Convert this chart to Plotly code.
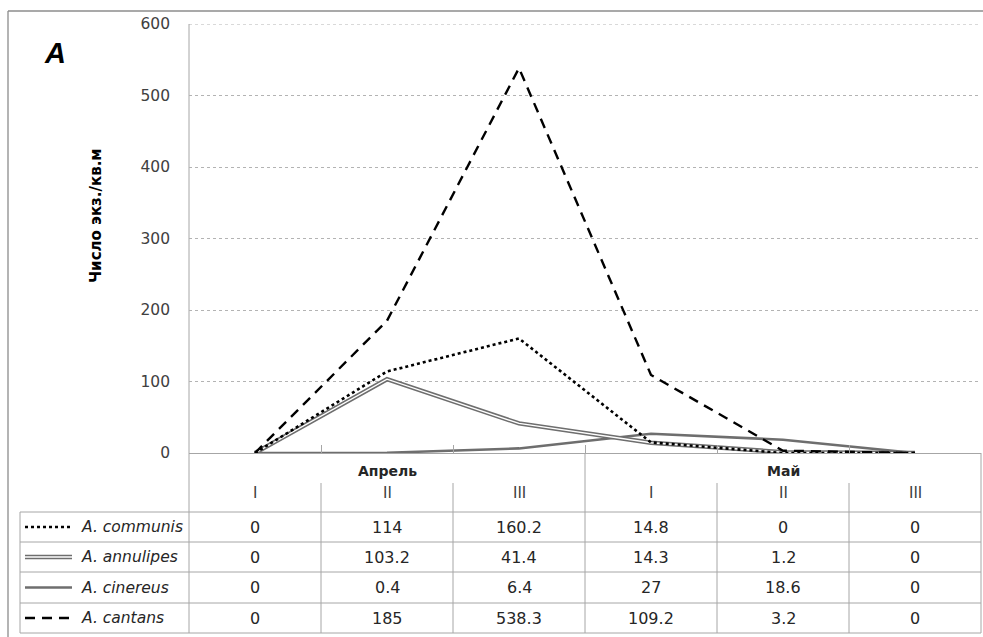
import plotly.graph_objects as go

W, H = 983, 637

# ---------------- data ----------------
periods = ["I", "II", "III", "I", "II", "III"]
months = ["Апрель", "Май"]
series_names = ["A. communis", "A. annulipes", "A. cinereus", "A. cantans"]
communis = [0, 114, 160.2, 14.8, 0, 0]
annulipes = [0, 103.2, 41.4, 14.3, 1.2, 0]
cinereus = [0, 0.4, 6.4, 27, 18.6, 0]
cantans = [0, 185, 538.3, 109.2, 3.2, 0]
y_ticks = [0, 100, 200, 300, 400, 500, 600]
y_title = "Число экз./кв.м"
panel_label = "A"

# ---------------- layout geometry (pixels) ----------------
PX0, PX1 = 189, 981       # plot area left/right
PY_TOP, PY_ZERO = 24, 453  # plot area top (600) / bottom (0)
ROW_LINES = [512, 542, 572, 603, 633]
LEG_X0 = 20
FONT = "DejaVu Sans"
GRID = "#a6a6a6"
TXT = "#262626"


def fx(x):
    return x / W


def fy(y):
    return 1 - y / H


xs = list(range(len(periods)))
fig = go.Figure()

# lines
fig.add_trace(go.Scatter(x=xs, y=cinereus, mode="lines", name=series_names[2],
                         line=dict(color="#6e6e6e", width=2.6)))
fig.add_trace(go.Scatter(x=xs, y=annulipes, mode="lines", name=series_names[1],
                         line=dict(color="#6e6e6e", width=4.4)))
fig.add_trace(go.Scatter(x=xs, y=annulipes, mode="lines", showlegend=False,
                         line=dict(color="white", width=1.4)))
fig.add_trace(go.Scatter(x=xs, y=communis, mode="lines", name=series_names[0],
                         line=dict(color="black", width=2.6, dash="dot")))
fig.add_trace(go.Scatter(x=xs, y=cantans, mode="lines", name=series_names[3],
                         line=dict(color="black", width=2.4, dash="10px,7px")))

shapes = []
annotations = []


def hline(y, x0, x1, color=GRID, width=1):
    shapes.append(dict(type="line", xref="paper", yref="paper",
                       x0=fx(x0), x1=fx(x1), y0=fy(y), y1=fy(y),
                       line=dict(color=color, width=width), layer="below"))


def vline(x, y0, y1, color=GRID, width=1):
    shapes.append(dict(type="line", xref="paper", yref="paper",
                       x0=fx(x), x1=fx(x), y0=fy(y0), y1=fy(y1),
                       line=dict(color=color, width=width), layer="below"))


# outer frame (top & left visible)
hline(11, 8, W, color="#8c8c8c", width=1.3)
vline(8, 11, H, color="#8c8c8c", width=1.3)

# top gridline (at the axis maximum)
shapes.append(dict(type="line", xref="x domain", yref="y", x0=0, x1=1,
                   y0=y_ticks[-1], y1=y_ticks[-1],
                   line=dict(color="#b3b3b3", width=1, dash="dot"), layer="below"))

# table grid
for y in ROW_LINES:
    hline(y, LEG_X0, PX1)
vline(LEG_X0, ROW_LINES[0], ROW_LINES[-1])
vline(PX0, PY_TOP, ROW_LINES[-1])
step = (PX1 - PX0) / len(periods)
for k in range(1, len(periods) + 1):
    xk = PX0 + k * step
    if k % 3 == 0:
        vline(xk, PY_ZERO, ROW_LINES[-1])
    else:
        vline(xk, 483, ROW_LINES[-1])

# month labels (centred over each group of three periods)
for j, m in enumerate(months):
    annotations.append(dict(text=f"<b>{m}</b>", x=3 * j + 1, y=fy(471), xref="x", yref="paper",
                            showarrow=False, font=dict(family=FONT, size=14, color=TXT),
                            xanchor="center", yanchor="middle"))
# period labels
for i, p in enumerate(periods):
    annotations.append(dict(text=p, x=i, y=fy(493), xref="x", yref="paper",
                            showarrow=False, font=dict(family=FONT, size=15, color="#404040"),
                            xanchor="center", yanchor="middle"))

# table values + legend keys
table_series = [communis, annulipes, cinereus, cantans]
row_centers = [(ROW_LINES[i] + ROW_LINES[i + 1]) / 2 for i in range(4)]
for r, (name, vals) in enumerate(zip(series_names, table_series)):
    yc = row_centers[r]
    for i, v in enumerate(vals):
        annotations.append(dict(text=f"{v:g}", x=i, y=fy(yc), xref="x", yref="paper",
                                showarrow=False, font=dict(family=FONT, size=16, color=TXT),
                                xanchor="center", yanchor="middle"))
    annotations.append(dict(text=f"<i>{name}</i>", x=fx(79), y=fy(yc), xref="paper", yref="paper",
                            showarrow=False, font=dict(family=FONT, size=15.5, color=TXT),
                            xanchor="left", yanchor="middle"))

key_styles = [
    [dict(color="black", width=2.6, dash="dot")],
    [dict(color="#6e6e6e", width=4.4), dict(color="white", width=1.4)],
    [dict(color="#6e6e6e", width=2.6)],
    [dict(color="black", width=2.4, dash="10px,7px")],
]
for r, styles in enumerate(key_styles):
    yc = row_centers[r]
    for st in styles:
        shapes.append(dict(type="line", xref="paper", yref="paper",
                           x0=fx(25), x1=fx(72), y0=fy(yc), y1=fy(yc), line=st))

# panel label & y title
annotations.append(dict(text=f"<b><i>{panel_label}</i></b>", x=fx(55), y=fy(53), xref="paper", yref="paper",
                        showarrow=False, font=dict(family="Liberation Sans", size=29, color="black"),
                        xanchor="center", yanchor="middle"))
annotations.append(dict(text=f"<b>{y_title}</b>", x=fx(96), y=fy(216), xref="paper", yref="paper",
                        showarrow=False, textangle=-90, font=dict(family=FONT, size=15, color="black"),
                        xanchor="center", yanchor="middle"))

fig.update_layout(
    width=W, height=H, margin=dict(l=0, r=0, t=0, b=0, autoexpand=False),
    paper_bgcolor="white", plot_bgcolor="white", showlegend=False,
    shapes=shapes, annotations=annotations,
    xaxis=dict(domain=[fx(PX0), fx(PX1)], range=[-0.5, len(periods) - 0.5],
               showticklabels=False, showgrid=False, zeroline=False, automargin=False,
               tickvals=[k - 0.5 for k in range(len(periods) + 1)], ticks="inside",
               ticklen=8, tickcolor=GRID, showline=False),
    yaxis=dict(domain=[fy(PY_ZERO), fy(PY_TOP)], range=[0, 600], tickvals=y_ticks,
               automargin=False,
               showgrid=True, gridcolor="#b3b3b3", griddash="dot", gridwidth=1,
               zeroline=True, zerolinecolor=GRID, zerolinewidth=1.2,
               showline=False, ticks="", ticklabelstandoff=18,
               tickfont=dict(family=FONT, size=15.5, color="#404040")),
)

post = (
    "document.documentElement.style.margin='0';"
    "document.documentElement.style.padding='0';"
    "document.body.style.margin='0';document.body.style.padding='0';"
    "document.body.style.overflow='hidden';"
)
fig.write_html("out.html", config={"displayModeBar": False}, post_script=post)
